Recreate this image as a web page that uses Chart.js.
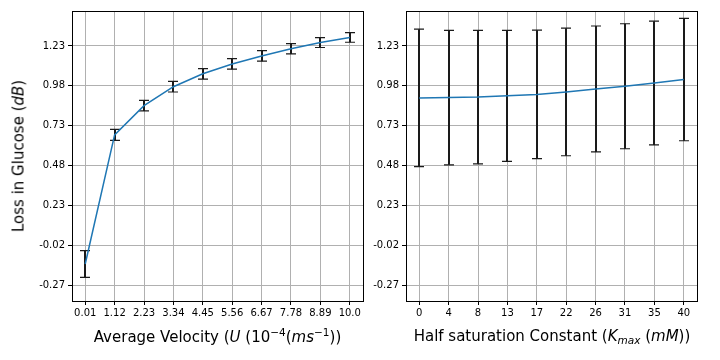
<!DOCTYPE html>
<html>
<head>
<meta charset="utf-8">
<script src="https://cdn.jsdelivr.net/npm/chart.js@4.4.1/dist/chart.umd.min.js"></script>
<style>
  html, body { margin: 0; padding: 0; background: #fff; }
  #wrap { position: relative; width: 720px; height: 360px; overflow: hidden; }
  #wrap canvas { position: absolute; left: 0; top: 0; }
  .ttl { position: absolute; white-space: nowrap; font-family: 'DejaVu Sans', sans-serif; font-size: 15px; color: #000; line-height: 1; }
  .ttl sup, .ttl sub { font-size: 70%; line-height: 0; position: relative; vertical-align: baseline; }
  .ttl sup { top: -0.55em; }
  .ttl sub { top: 0.3em; }
</style>
</head>
<body>
<div id="wrap">
  <canvas id="left" width="720" height="360"></canvas>
  <canvas id="right" width="720" height="360"></canvas>
  <div class="ttl" id="ytitle">Loss in Glucose (<i>dB</i>)</div>
  <div class="ttl" id="xtitle1">Average Velocity (<i>U</i> (10<sup>−4</sup>(<i>ms</i><sup>−1</sup>))</div>
  <div class="ttl" id="xtitle2">Half saturation Constant (<i>K<sub>max</sub></i> (<i>mM</i>))</div>
</div>
<script>
// left panel: velocity
const velocity = [0.01, 1.12, 2.23, 3.34, 4.45, 5.56, 6.67, 7.78, 8.89, 10.0];
const velocityLabels = ['0.01', '1.12', '2.23', '3.34', '4.45', '5.56', '6.67', '7.78', '8.89', '10.0'];
const lossByVelocity = [-0.138, 0.672, 0.855, 0.974, 1.055, 1.117, 1.167, 1.212, 1.251, 1.283];
const errByVelocity = [0.084, 0.035, 0.033, 0.033, 0.033, 0.033, 0.033, 0.032, 0.031, 0.030];

// right panel: half saturation constant
const kmax = [0, 4.444, 8.889, 13.333, 17.778, 22.222, 26.667, 31.111, 35.556, 40];
const kmaxLabels = ['0', '4', '8', '13', '17', '22', '26', '31', '35', '40'];
const lossByKmax = [0.904, 0.906, 0.909, 0.917, 0.926, 0.941, 0.960, 0.977, 0.997, 1.019];
const errByKmax = [0.431, 0.422, 0.419, 0.411, 0.403, 0.400, 0.395, 0.392, 0.388, 0.384];

const yTicks = [-0.27, -0.02, 0.23, 0.48, 0.73, 0.98, 1.23];

const FONT = { family: "'DejaVu Sans', sans-serif", size: 10 };

// draws black error bars with caps + the box around the axes
const errorBars = {
  id: 'errorBars',
  beforeDatasetsDraw(chart, args, opts) {
    const ctx = chart.ctx;
    const xs = chart.scales.x, ys = chart.scales.y;
    ctx.save();
    ctx.strokeStyle = '#1a1a1a';
    opts.x.forEach((xv, i) => {
      const px = Math.round(xs.getPixelForValue(xv));
      const top = ys.getPixelForValue(opts.y[i] + opts.err[i]);
      const bot = ys.getPixelForValue(opts.y[i] - opts.err[i]);
      ctx.lineWidth = 2;
      ctx.beginPath();
      ctx.moveTo(px, top);
      ctx.lineTo(px, bot);
      ctx.stroke();
      ctx.lineWidth = 1.2;
      ctx.beginPath();
      ctx.moveTo(px - 5, top); ctx.lineTo(px + 5, top);
      ctx.moveTo(px - 5, bot); ctx.lineTo(px + 5, bot);
      ctx.stroke();
    });
    ctx.restore();
  },
  afterDraw(chart) {
    const a = chart.chartArea, ctx = chart.ctx;
    ctx.save();
    ctx.strokeStyle = '#000';
    ctx.lineWidth = 1;
    ctx.strokeRect(Math.round(a.left) + 0.5, Math.round(a.top) + 0.5,
      Math.round(a.right - a.left), Math.round(a.bottom - a.top));
    ctx.restore();
  }
};

function makePanel(id, xs, ys, errs, xLabels, xMin, xMax, pad, yWidth) {
  return new Chart(document.getElementById(id), {
    type: 'line',
    data: {
      datasets: [{
        data: xs.map((x, i) => ({ x: x, y: ys[i] })),
        borderColor: '#1f77b4',
        borderWidth: 1.5,
        pointRadius: 0,
        tension: 0,
        fill: false
      }]
    },
    options: {
      responsive: false,
      animation: false,
      events: [],
      layout: { padding: pad },
      plugins: {
        legend: { display: false },
        tooltip: { enabled: false },
        errorBars: { x: xs, y: ys, err: errs }
      },
      scales: {
        x: {
          type: 'linear',
          min: xMin,
          max: xMax,
          afterBuildTicks: s => { s.ticks = xs.map(v => ({ value: v })); },
          afterFit: s => { s.height = 59; },
          ticks: {
            autoSkip: false,
            maxRotation: 0,
            padding: 2,
            color: '#000',
            font: FONT,
            callback: (v, i) => xLabels[i]
          },
          grid: { color: '#b0b0b0', lineWidth: 1, tickColor: '#000', tickLength: 4 },
          border: { display: false }
        },
        y: {
          min: -0.37,
          max: 1.449,
          afterBuildTicks: s => { s.ticks = yTicks.map(v => ({ value: v })); },
          afterFit: s => { s.width = yWidth; },
          ticks: {
            padding: 3,
            color: '#000',
            font: FONT,
            callback: v => v.toFixed(2)
          },
          grid: { color: '#b0b0b0', lineWidth: 1, tickColor: '#000', tickLength: 4 },
          border: { display: false }
        }
      }
    },
    plugins: [errorBars]
  });
}

makePanel('left', velocity, lossByVelocity, errByVelocity, velocityLabels,
  -0.4895, 10.4995, { left: 0, right: 357, top: 11, bottom: 0 }, 72);
makePanel('right', kmax, lossByKmax, errByKmax, kmaxLabels,
  -2, 42, { left: 370, right: 23, top: 11, bottom: 0 }, 36);

// axis titles (mixed italic / super- and subscripts)
function place(id, cx, cy, rot) {
  const el = document.getElementById(id);
  el.style.left = cx + 'px';
  el.style.top = cy + 'px';
  el.style.transform = 'translate(-50%, -50%)' + (rot ? ' rotate(-90deg)' : '');
}
place('ytitle', 19, 156, true);
place('xtitle1', 217.5, 337, false);
place('xtitle2', 552, 336, false);
</script>
</body>
</html>
